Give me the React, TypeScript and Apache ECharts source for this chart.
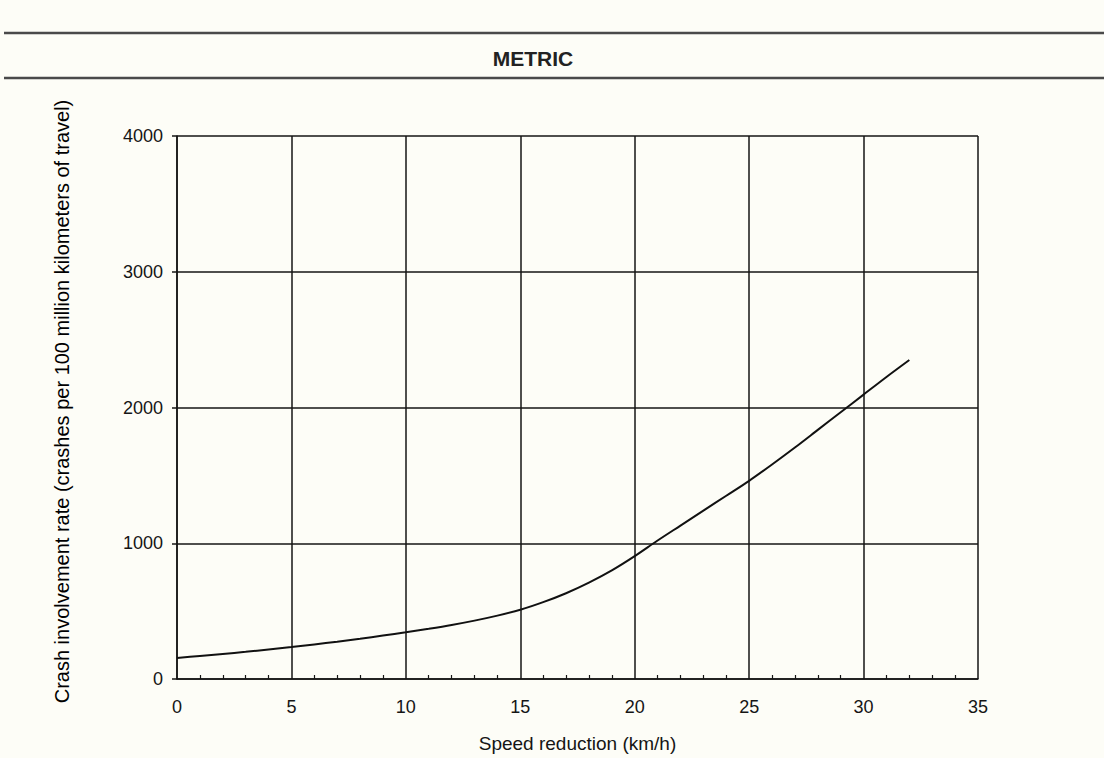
import React, { useEffect, useRef } from "react";
import * as echarts from "echarts";

// Speed reduction (km/h) and crash involvement rate per 100 million km of travel
const speedReduction = [0, 1, 2, 3, 4, 5, 6, 7, 8, 9, 10, 11, 12, 13, 14, 15, 16, 17, 18, 19, 20, 21, 22, 23, 24, 25, 26, 27, 28, 29, 30, 31, 32];
const crashRate = [155, 170, 185, 200, 217, 235, 255, 275, 297, 320, 344, 370, 398, 430, 467, 510, 566, 632, 710, 800, 905, 1020, 1130, 1240, 1350, 1460, 1580, 1705, 1835, 1965, 2095, 2225, 2350];

const xTicks = { min: 0, max: 35, interval: 5 };
const yTicks = { min: 0, max: 4000, interval: 1000 };

const titleText = "METRIC";
const xName = "Speed reduction (km/h)";
const yName = "Crash involvement rate (crashes per 100 million kilometers of travel)";

export default function App() {
  const ref = useRef<HTMLDivElement>(null);

  useEffect(() => {
    if (!ref.current) return;
    const chart = echarts.init(ref.current, null, { renderer: "svg" });
    const ink = "#151515";
    const scanFont = "Liberation Sans, Arial, sans-serif";

    chart.setOption({
      animation: false,
      backgroundColor: "#fdfdf7",
      title: {
        text: titleText,
        left: 528,
        top: 43,
        textAlign: "center",
        textStyle: { fontFamily: scanFont, fontSize: 21, fontWeight: "bold", color: "#222" },
      },
      graphic: [
        { type: "line", shape: { x1: 4, y1: 33, x2: 1104, y2: 33 }, style: { stroke: "#4a4a4a", lineWidth: 2.5 } },
        { type: "line", shape: { x1: 4, y1: 78, x2: 1104, y2: 78 }, style: { stroke: "#4a4a4a", lineWidth: 2.5 } },
      ],
      grid: { left: 177, right: 126, top: 136, bottom: 79 },
      xAxis: {
        type: "value",
        min: xTicks.min,
        max: xTicks.max,
        interval: xTicks.interval,
        name: xName,
        nameLocation: "middle",
        nameGap: 55,
        nameTextStyle: { fontFamily: scanFont, fontSize: 19, color: ink },
        axisLine: { show: true, lineStyle: { color: ink, width: 1.5 } },
        axisTick: { show: false, inside: true },
        minorTick: { show: true, splitNumber: 5, length: 4, lineStyle: { color: ink, width: 1.2 } },
        axisLabel: { margin: 19, fontFamily: scanFont, fontSize: 18, color: ink },
        splitLine: { show: true, lineStyle: { color: ink, width: 1.5 } },
      },
      yAxis: {
        type: "value",
        min: yTicks.min,
        max: yTicks.max,
        interval: yTicks.interval,
        name: yName,
        nameLocation: "middle",
        nameRotate: 90,
        nameGap: 105,
        nameTextStyle: { fontFamily: "Liberation Sans, Arial, sans-serif", fontSize: 20, color: "#000", padding: [0, 0, 0, 12] },
        axisLine: { show: true, lineStyle: { color: ink, width: 1.5 } },
        axisTick: { show: true, length: 5, lineStyle: { color: ink, width: 1.5 } },
        axisLabel: {
          margin: 14,
          fontFamily: scanFont,
          fontSize: 18,
          color: ink,
          formatter: (v: number) => String(v),
        },
        splitLine: { show: true, lineStyle: { color: ink, width: 1.5 } },
      },
      series: [
        {
          type: "line",
          data: speedReduction.map((s, i) => [s, crashRate[i]]),
          smooth: 0.3,
          showSymbol: false,
          lineStyle: { color: "#111", width: 2 },
        },
      ],
    });

    return () => chart.dispose();
  }, []);

  return (
    <div
      ref={ref}
      style={{ position: "absolute", left: 0, top: 0, width: 1104, height: 758 }}
    />
  );
}
